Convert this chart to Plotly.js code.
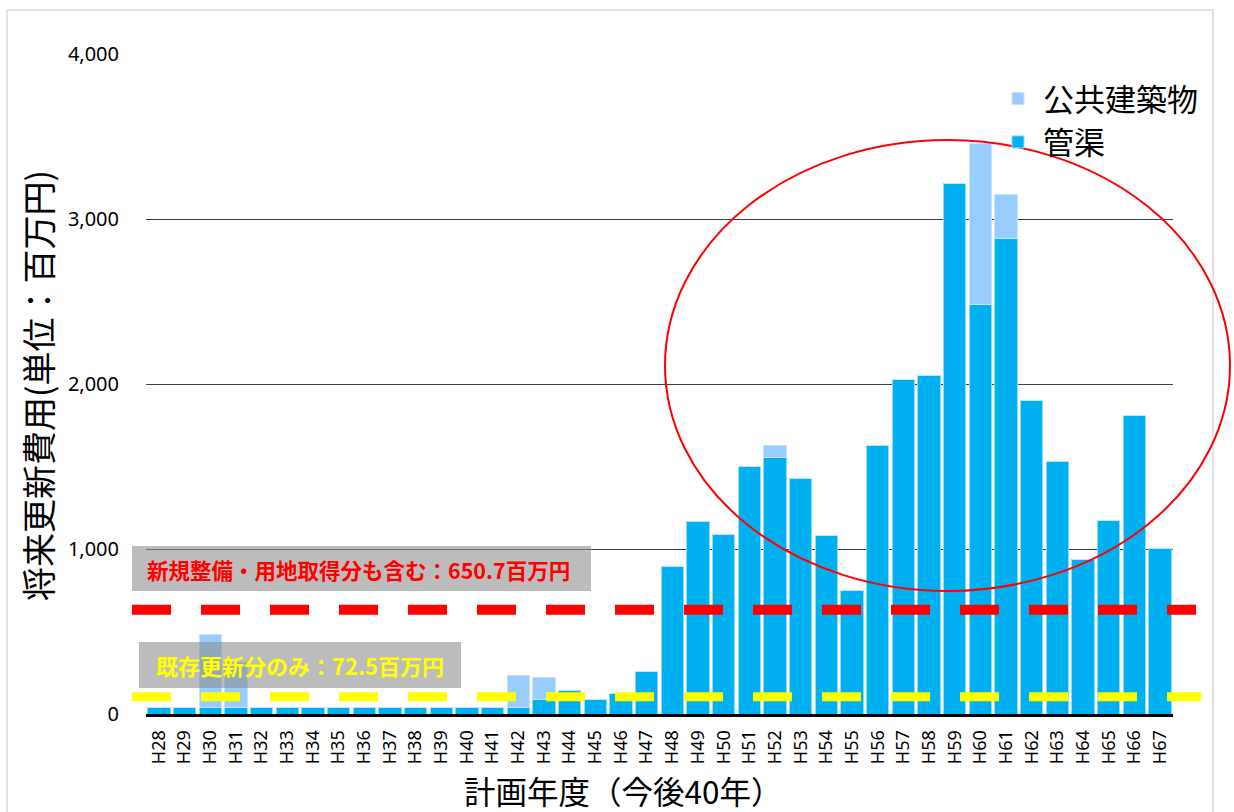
<!DOCTYPE html>
<html>
<head>
<meta charset="utf-8">
<script src="https://cdn.plot.ly/plotly-3.0.1.min.js"></script>
<style>html,body{margin:0;padding:0;background:#fff;}#chart{width:1234px;height:812px;}</style>
</head>
<body>
<div id="chart"></div>
<script>
// ---- data ----
const years = ["H28","H29","H30","H31","H32","H33","H34","H35","H36","H37",
               "H38","H39","H40","H41","H42","H43","H44","H45","H46","H47",
               "H48","H49","H50","H51","H52","H53","H54","H55","H56","H57",
               "H58","H59","H60","H61","H62","H63","H64","H65","H66","H67"];
const kankyo = [42,42,42,42,42,42,42,42,42,42,
                42,42,42,42,42,85,143,90,122,255,
                891,1166,1087,1498,1553,1425,1084,748,1630,2030,
                2050,3216,2479,2884,1898,1531,939,1172,1810,1001];
const kokyo  = [0,0,438,268,0,0,0,0,0,0,
                0,0,0,0,190,139,0,0,0,0,
                0,0,0,0,77,0,0,0,0,0,
                0,0,981,266,0,0,0,0,0,0];
const seriesNames = ["管渠","公共建築物"];
const yTicks = [0,1000,2000,3000,4000];
const yTickText = ["0","1,000","2,000","3,000","4,000"];
const avgAll = 632;      // red dashed line (as drawn)
const avgRenew = 104;    // yellow dashed line (as drawn)
const labelAll = "新規整備・用地取得分も含む：650.7百万円";
const labelRenew = "既存更新分のみ：72.5百万円";

// ---- layout helpers (pixel -> paper) ----
const L = 146, R = 61, T = 54, B = 98, W = 1234, H = 812;
const pw = W - L - R, ph = H - T - B;
const px = x => (x - L) / pw;
const py = y => (H - B - y) / ph;

const traces = [
  {type:"bar", name:seriesNames[0], x:years, y:kankyo, legendgroup:"a",
   marker:{color:"#00B0F0", line:{color:"#8FDAF8", width:1}}},
  {type:"bar", name:seriesNames[1], x:years, y:kokyo, legendgroup:"b",
   marker:{color:"#99CCFF", line:{color:"#C6E2FF", width:1}}}
];

const dashSpec = "39px,30px";
const shapes = [
  {type:"rect", xref:"paper", yref:"paper", x0:px(7), x1:px(1213), y0:py(830), y1:py(10),
   line:{color:"#D9D9D9", width:1.5}, fillcolor:"rgba(0,0,0,0)", layer:"below"},
  {type:"rect", xref:"paper", yref:"paper", x0:px(132), x1:px(591), y0:py(591), y1:py(546),
   line:{width:0}, fillcolor:"rgba(140,140,140,0.58)"},
  {type:"rect", xref:"paper", yref:"paper", x0:px(139), x1:px(461), y0:py(688), y1:py(642),
   line:{width:0}, fillcolor:"rgba(140,140,140,0.58)"},
  {type:"line", xref:"paper", yref:"y", x0:px(132), x1:px(1196), y0:avgAll, y1:avgAll,
   line:{color:"#FF0000", width:10, dash:dashSpec}},
  {type:"line", xref:"paper", yref:"y", x0:px(132), x1:px(1201), y0:avgRenew, y1:avgRenew,
   line:{color:"#FFFF00", width:9, dash:dashSpec}},
  {type:"circle", xref:"paper", yref:"paper", x0:px(665), x1:px(1230), y0:py(591), y1:py(140),
   line:{color:"#FF0000", width:2}, fillcolor:"rgba(0,0,0,0)"}
];

const annotations = [
  {xref:"paper", yref:"paper", x:px(145), y:py(569), xanchor:"left", yanchor:"middle",
   text:labelAll, showarrow:false,
   font:{family:"Noto Sans CJK JP", size:21.5, color:"#FF0000", weight:"bold"}},
  {xref:"paper", yref:"paper", x:px(154), y:py(665), xanchor:"left", yanchor:"middle",
   text:labelRenew, showarrow:false,
   font:{family:"Noto Sans CJK JP", size:22, color:"#FFFF00", weight:"bold"}},
  {xref:"paper", yref:"paper", x:px(37), y:py(386), xanchor:"center", yanchor:"middle",
   text:"将来更新費用(単位：百万円)", textangle:-90, showarrow:false,
   font:{family:"Noto Sans CJK JP", size:34, color:"#000"}},
  {xref:"paper", yref:"paper", x:px(623), y:py(790), xanchor:"center", yanchor:"middle",
   text:"計画年度（今後40年）", showarrow:false,
   font:{family:"Noto Sans CJK JP", size:31.5, color:"#000"}}
];

const layout = {
  width:W, height:H,
  margin:{l:L, r:R, t:T, b:B, pad:0},
  paper_bgcolor:"#fff", plot_bgcolor:"#fff",
  barmode:"stack", bargap:0.13,
  font:{family:"Noto Sans, Noto Sans CJK JP", color:"#000"},
  xaxis:{type:"category", tickangle:-90, tickfont:{size:18, family:"Noto Sans"},
         showline:true, linecolor:"#000", linewidth:3, ticks:"", showgrid:false,
         ticklabelstandoff:6, automargin:false},
  yaxis:{range:[0,4000], tickvals:yTicks, ticktext:yTickText,
         tickfont:{size:20, family:"Noto Sans"}, showgrid:true, gridcolor:"#404040",
         gridwidth:1, zeroline:false, showline:false, ticks:"", ticklabelstandoff:26,
         automargin:false},
  showlegend:true,
  legend:{x:px(993), y:py(72), xanchor:"left", yanchor:"top", traceorder:"reversed",
          bgcolor:"rgba(0,0,0,0)", font:{size:31, family:"Noto Sans CJK JP", color:"#000"},
          tracegroupgap:18, itemwidth:40},
  shapes:shapes,
  annotations:annotations
};

Plotly.newPlot("chart", traces, layout, {displayModeBar:false, staticPlot:true});
</script>
</body>
</html>
